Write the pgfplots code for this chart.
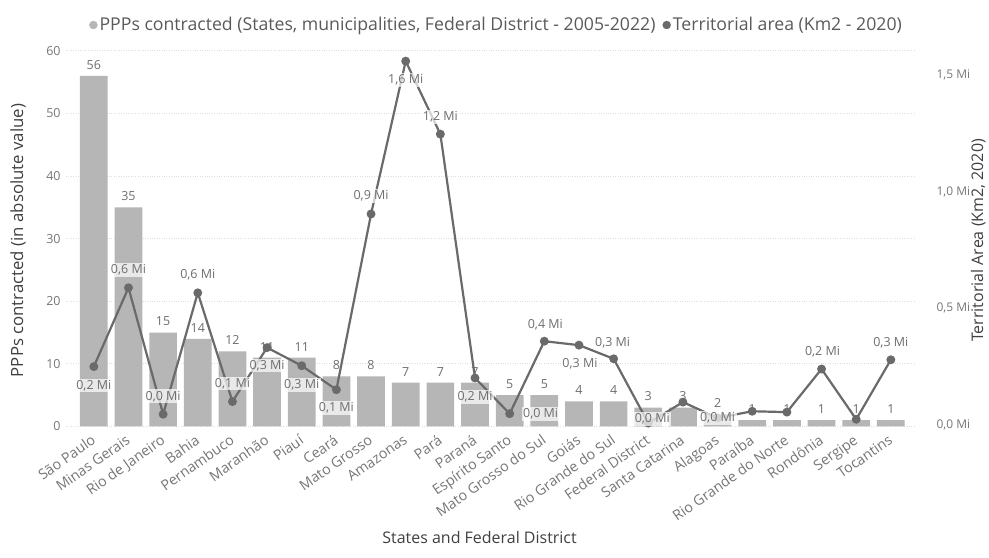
\documentclass[border=0pt]{standalone}
\usepackage{pgfplots}
\pgfplotsset{compat=1.18}
\usepackage{pgfplotstable}
\usepackage{fontspec}
\setmainfont{Open Sans}
\definecolor{barcol}{RGB}{182,182,182}
\definecolor{linecol}{RGB}{106,106,106}
\definecolor{tickcol}{RGB}{118,118,118}
\definecolor{titlecol}{RGB}{64,64,64}
\definecolor{legcol}{RGB}{90,90,90}
\definecolor{gridcol}{RGB}{222,222,222}
\definecolor{labcol}{RGB}{110,110,110}

\pgfplotstableread{
x ppp
0 56
1 35
2 15
3 14
4 12
5 11
6 11
7 8
8 8
9 7
10 7
11 7
12 5
13 5
14 4
15 4
16 3
17 3
18 2
19 1
20 1
21 1
22 1
23 1
}\ppptab

\pgfplotstableread{
x area dx dy show
0 248219 0 -19 1
1 586521 0 18 1
2 43750 0 18 1
3 564733 0 18 1
4 98068 0 18 1
5 329642 0 -18 1
6 251756 0 -19 1
7 148894 0 -18 1
8 903207 0 18 1
9 1559168 0 -19 1
10 1245870 0 17 1
11 199298 0 -19 1
12 46074 31 0 1
13 357146 1 17 1
14 340203 1 -19 1
15 281707 -1 16 1
16 5760 4 4 1
17 95730 0 0 0
18 27830 0 0 1
19 56467 0 0 0
20 52809 0 0 0
21 237765 1 17 1
22 21926 0 0 0
23 277467 0 17 1
}\areatab

\pgfplotsset{
  twin/.style={
    anchor=south west,
    scale only axis, width=850.2bp, height=376bp,
    xmin=-0.8, xmax=23.7,
    axis line style={draw=none},
    major tick length=0pt,
  }
}

\begin{document}
\begin{tikzpicture}
\path (-66.2bp,-131bp) rectangle (922.8bp,427bp);
\begin{axis}[
  twin,
  ymin=0, ymax=60,
  ytick={0,10,...,60},
  xtick={0,...,23},
  xticklabels={São Paulo, Minas Gerais, Rio de Janeiro, Bahia, Pernambuco, Maranhão, Piauí, Ceará, Mato Grosso, Amazonas, Pará, Paraná, Espírito Santo, Mato Grosso do Sul, Goiás, Rio Grande do Sul, Federal District, Santa Catarina, Alagoas, Paraíba, Rio Grande do Norte, Rondônia, Sergipe, Tocantins},
  xticklabel style={rotate=35, anchor=north east, font=\fontsize{14.3bp}{16bp}\selectfont, text=tickcol, inner sep=1bp, xshift=-6bp, yshift=-3bp},
  yticklabel style={font=\fontsize{12.5bp}{14bp}\selectfont, text=tickcol, xshift=-2bp},
  /pgf/number format/assume math mode=true,
  ymajorgrids,
  major grid style={gridcol, dotted, line width=1bp},
  xlabel={States and Federal District},
  xlabel style={at={(axis description cs:0.487,-0.295)}, anchor=center, font=\fontsize{16bp}{18bp}\selectfont, text=titlecol},
  ylabel={PPPs contracted (in absolute value)},
  ylabel style={at={(axis description cs:-0.0567,0.495)}, anchor=center, font=\fontsize{16.8bp}{18bp}\selectfont, text=titlecol},
]
\addplot[ybar, bar width=0.8, fill=barcol, draw=none,
  nodes near coords,
  every node near coord/.append style={font=\fontsize{12.5bp}{14bp}\selectfont, text=labcol, anchor=south, yshift=3bp},
] table[x=x, y=ppp] {\ppptab};
\end{axis}
\begin{axis}[
  twin,
  ymin=-8500, ymax=1603000,
  axis x line=none,
  axis y line*=right,
  scaled y ticks=false,
  ytick={0,500000,1000000,1500000},
  yticklabels={{0,0 Mi},{0,5 Mi},{1,0 Mi},{1,5 Mi}},
  yticklabel style={font=\fontsize{12bp}{14bp}\selectfont, text=tickcol, anchor=west, xshift=18bp},
  ylabel={Territorial Area (Km2, 2020)},
  ylabel style={at={(axis description cs:1.0745,0.495)}, anchor=center, rotate=0, font=\fontsize{16bp}{18bp}\selectfont, text=titlecol},
  legend style={at={(axis description cs:0.507,1.069)}, anchor=center, draw=none, fill=none,
    font=\fontsize{17.7bp}{19bp}\selectfont, text=legcol, legend columns=2,
    /tikz/every even column/.append style={column sep=5bp}},
  legend cell align=left,
]
\addlegendimage{barcol, legend image code/.code={\fill (0bp,0bp) circle (4bp);}}
\addlegendentry{PPPs contracted (States, municipalities, Federal District - 2005-2022)}
\addlegendimage{linecol, legend image code/.code={\fill (0bp,0bp) circle (4bp);}}
\addlegendentry{Territorial area (Km2 - 2020)}
\addplot[linecol, line width=2.2bp, mark=*, mark size=3.3bp, forget plot] table[x=x, y=area] {\areatab};
\addplot[only marks, mark=none, forget plot,
  point meta={\thisrow{area}/1000000},
  restrict expr to domain={\thisrow{show}}{0.5:1.5},
  visualization depends on={\thisrow{dx} \as \ldx},
  visualization depends on={\thisrow{dy} \as \ldy},
  nodes near coords={\pgfmathprintnumber[fixed,fixed zerofill,precision=1,use comma,assume math mode=true]{\pgfplotspointmeta}~Mi},
  every node near coord/.append style={anchor=center, xshift=\ldx bp, yshift=\ldy bp, fill=white, fill opacity=0.7, text opacity=1, inner sep=1.5bp, font=\fontsize{12.5bp}{14bp}\selectfont, text=labcol},
] table[x=x, y=area] {\areatab};
\end{axis}
\end{tikzpicture}
\end{document}
